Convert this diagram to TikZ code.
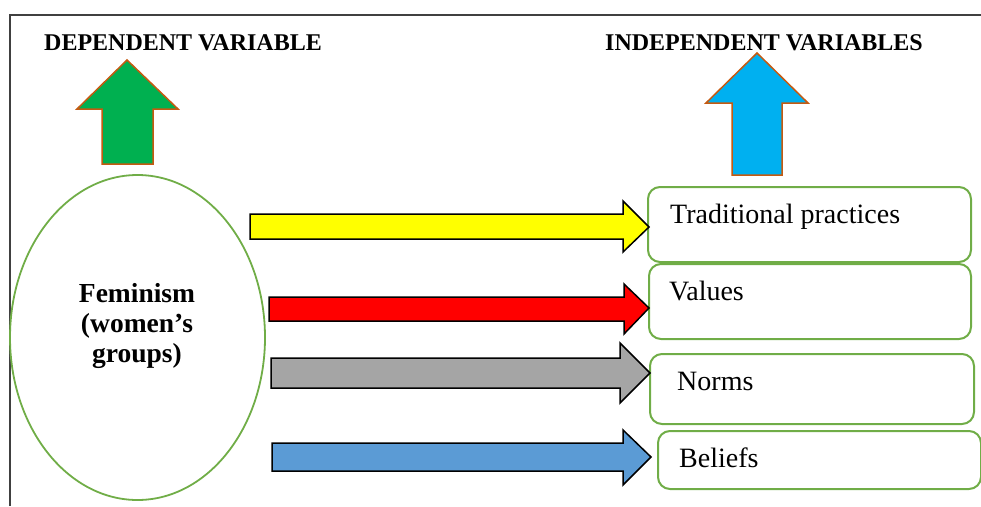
\documentclass[tikz,border=0pt]{standalone}
\usepackage{fontspec}
\setmainfont{Liberation Serif}
\usepackage{tikz}
\usetikzlibrary{shapes.geometric}
\usepackage{xcolor}
\definecolor{boxgreen}{HTML}{70AD47}
\definecolor{depgreen}{HTML}{00B050}
\definecolor{indepblue}{HTML}{00B0F0}
\definecolor{arrowbrown}{HTML}{C55A11}
\definecolor{fillyellow}{HTML}{FFFF00}
\definecolor{fillred}{HTML}{FF0000}
\definecolor{fillgray}{HTML}{A5A5A5}
\definecolor{fillblue}{HTML}{5B9BD5}
\tikzset{
  heading/.style={font=\fontsize{24}{28}\selectfont\bfseries, inner sep=0pt, anchor=base},
  groupnode/.style={ellipse, draw=boxgreen, line width=1.8pt, inner sep=0pt,
                 minimum width=255pt, minimum height=325pt},
  grouptext/.style={font=\fontsize{27.5}{30}\selectfont\bfseries, align=center, inner sep=0pt},
  varbox/.style={draw=boxgreen, line width=2pt, rounded corners=12pt,
                 inner sep=0pt, anchor=north west},
  vartext/.style={font=\fontsize{28}{32}\selectfont, inner sep=0pt, anchor=base west},
  blockarrow/.style={draw=black, line width=1.5pt, line join=miter},
  uparrow/.style={draw=arrowbrown, line width=1.5pt, line join=miter},
  frameline/.style={draw=black!75, line width=1.5pt},
}

\begin{document}
\begin{tikzpicture}[x=1pt, y=-1pt]
    \useasboundingbox (0,0) rectangle (981,506);
    % Frame
    \draw[frameline] (10,506) -- (10,15) -- (981,15);
    % Headings
    \node[heading] (depvar) at (183,50) {DEPENDENT VARIABLE};
    \node[heading] (indepvar) at (764,50) {INDEPENDENT VARIABLES};
    % Up arrows
    \draw[uparrow, fill=depgreen] (102,164) -- (102,109) -- (77,109) -- (127,60)
      -- (178,109) -- (153,109) -- (153,164) -- cycle;
    \draw[uparrow, fill=indepblue] (732,175) -- (732,103) -- (706,103) -- (757,53)
      -- (808,103) -- (782,103) -- (782,175) -- cycle;
    % Women's groups
    \node[groupnode] (fem) at (137.5,337.5) {};
    \node[grouptext] (femtext) at (137,326) {Feminism\\(women's\\groups)};
    % Variable boxes
    \node[varbox, minimum width=323pt, minimum height=75pt] (trad) at (647,186) {};
    \node[varbox, minimum width=322pt, minimum height=75pt] (values) at (648,263) {};
    \node[varbox, minimum width=324pt, minimum height=70pt] (norms) at (649,353) {};
    \node[varbox, minimum width=323pt, minimum height=58pt] (beliefs) at (657,430) {};
    \node[vartext] (tradtext) at (670,223) {Traditional practices};
    \node[vartext] (valuestext) at (669,300) {Values};
    \node[vartext] (normstext) at (677,390) {Norms};
    \node[vartext] (beliefstext) at (679,467) {Beliefs};
    % Block arrows
    \draw[blockarrow, fill=fillyellow] (250,214) -- (623,214) -- (623,201) -- (649,227)
      -- (623,252) -- (623,239) -- (250,239) -- cycle;
    \draw[blockarrow, fill=fillred] (269,297) -- (624,297) -- (624,284) -- (649,308)
      -- (624,334) -- (624,321) -- (269,321) -- cycle;
    \draw[blockarrow, fill=fillgray] (271,358) -- (620,358) -- (620,343) -- (650,373)
      -- (620,403) -- (620,388) -- (271,388) -- cycle;
    \draw[blockarrow, fill=fillblue] (272,443) -- (623,443) -- (623,430) -- (651,457)
      -- (623,485) -- (623,471) -- (272,471) -- cycle;
  \end{tikzpicture}
\end{document}
